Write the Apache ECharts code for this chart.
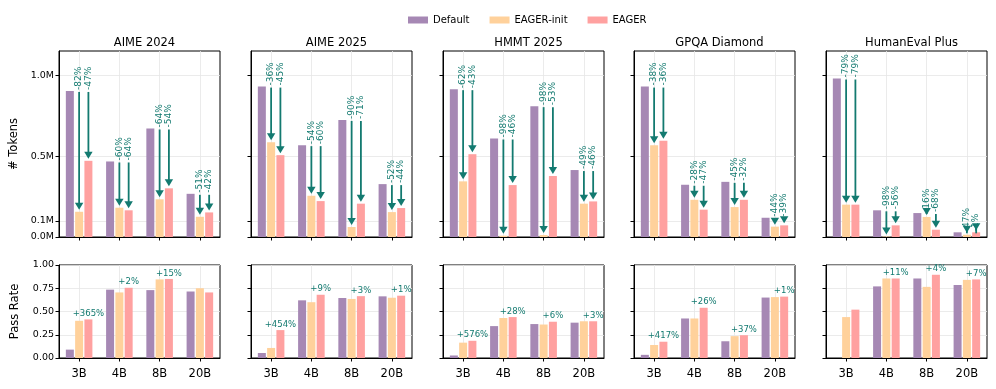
<!DOCTYPE html>
<html>
<head>
<meta charset="utf-8">
<script src="https://cdn.jsdelivr.net/npm/echarts@6/dist/echarts.min.js"></script>
<style>
  html, body { margin: 0; padding: 0; background: #fff; }
  #chart { width: 996px; height: 389px; }
</style>
</head>
<body>
<div id="chart"></div>
<script>
const categories = ['3B', '4B', '8B', '20B']
const benchmarks = ['AIME 2024', 'AIME 2025', 'HMMT 2025', 'GPQA Diamond', 'HumanEval Plus']
const seriesNames = ['Default', 'EAGER-init', 'EAGER']

// tokens, in millions
const tokensDefault = [
  [0.903, 0.467, 0.671, 0.267],
  [0.930, 0.568, 0.724, 0.327],
  [0.914, 0.609, 0.809, 0.414],
  [0.930, 0.323, 0.341, 0.119],
  [0.980, 0.165, 0.148, 0.029],
]
const tokensInit = [
  [0.156, 0.181, 0.233, 0.125],
  [0.586, 0.255, 0.062, 0.154],
  [0.344, 0.008, 0.012, 0.206],
  [0.568, 0.230, 0.185, 0.064],
  [0.200, 0.003, 0.124, 0.014],
]
const tokensEager = [
  [0.471, 0.165, 0.301, 0.152],
  [0.506, 0.222, 0.206, 0.179],
  [0.512, 0.321, 0.377, 0.220],
  [0.595, 0.169, 0.230, 0.072],
  [0.200, 0.072, 0.045, 0.029],
]
const initDeltaLabels = [
  ['-82%', '-60%', '-64%', '-51%'],
  ['-36%', '-54%', '-90%', '-52%'],
  ['-62%', '-98%', '-98%', '-49%'],
  ['-38%', '-28%', '-45%', '-44%'],
  ['-79%', '-98%', '-16%', '-47%'],
]
const eagerDeltaLabels = [
  ['-47%', '-64%', '-54%', '-42%'],
  ['-45%', '-60%', '-71%', '-44%'],
  ['-43%', '-46%', '-53%', '-46%'],
  ['-36%', '-47%', '-32%', '-39%'],
  ['-79%', '-56%', '-68%', '-1%'],
]

const passDefault = [
  [0.09, 0.735, 0.73, 0.715],
  [0.054, 0.62, 0.645, 0.663],
  [0.027, 0.343, 0.365, 0.38],
  [0.034, 0.425, 0.18, 0.65],
  [0, 0.77, 0.855, 0.785],
]
const passInit = [
  [0.40, 0.705, 0.845, 0.75],
  [0.108, 0.60, 0.635, 0.648],
  [0.165, 0.43, 0.36, 0.395],
  [0.14, 0.425, 0.235, 0.655],
  [0.44, 0.855, 0.765, 0.84],
]
const passEager = [
  [0.415, 0.755, 0.85, 0.705],
  [0.30, 0.68, 0.665, 0.67],
  [0.185, 0.44, 0.39, 0.395],
  [0.175, 0.54, 0.245, 0.66],
  [0.52, 0.855, 0.895, 0.845],
]
const passGainLabels = [
  ['+365%', '+2%', '+15%', ''],
  ['+454%', '+9%', '+3%', '+1%'],
  ['+576%', '+28%', '+6%', '+3%'],
  ['+417%', '+26%', '+37%', '+1%'],
  ['', '+11%', '+4%', '+7%'],
]

const tokenTicks = [0, 0.1, 0.5, 1.0]

const COLORS = ['#a688b4', '#ffd19b', '#ffa1a0']
const TEAL = '#137a70'
const FONT = 'DejaVu Sans'
const LEFTS = [59, 251, 443, 634, 826]
const W = 161
const BAR_W = 8
const BAR_STEP = BAR_W * 1.16

const chart = echarts.init(document.getElementById('chart'))

const grids = []
const xAxes = []
const yAxes = []
const series = []
const titles = []

function baseX(gi, showLabels) {
  return {
    type: 'category',
    gridIndex: gi,
    data: categories,
    axisLine: { show: true, lineStyle: { color: '#000', width: 1 } },
    axisTick: { show: true, alignWithLabel: true, length: 3.5, lineStyle: { color: '#000' } },
    axisLabel: { show: showLabels, color: '#000', fontSize: 11.5, fontFamily: FONT, margin: 10 },
    splitLine: { show: true, alignWithLabel: true, lineStyle: { color: '#e6e6e6', width: 0.8 } },
  }
}

benchmarks.forEach((name, p) => {
  const gt = p * 2
  const gb = p * 2 + 1
  grids.push({ left: LEFTS[p], top: 51, width: W, height: 186, show: true, borderColor: '#000', borderWidth: 1 })
  grids.push({ left: LEFTS[p], top: 265, width: W, height: 93, show: true, borderColor: '#000', borderWidth: 1 })
  titles.push({
    text: name, left: LEFTS[p] + W / 2, top: 32, textAlign: 'center',
    textStyle: { fontSize: 11.5, fontWeight: 'normal', color: '#000', fontFamily: FONT },
  })
  xAxes.push(baseX(gt, false))
  xAxes.push(baseX(gb, true))
  yAxes.push({
    type: 'value', gridIndex: gt, min: 0, max: 1.15,
    name: p === 0 ? '# Tokens' : '', nameLocation: 'middle', nameGap: 39,
    nameTextStyle: { fontSize: 11.5, color: '#000', fontFamily: FONT },
    axisLine: { show: true, lineStyle: { color: '#000' } },
    axisTick: { show: true, length: 3.5, customValues: tokenTicks, lineStyle: { color: '#000' } },
    axisLabel: {
      show: p === 0, customValues: tokenTicks, color: '#000', fontSize: 9.5, fontFamily: FONT, margin: 5,
      formatter: v => v.toFixed(1) + 'M',
    },
    splitLine: { show: true, customValues: tokenTicks, lineStyle: { color: '#e6e6e6', width: 0.8 } },
  })
  yAxes.push({
    type: 'value', gridIndex: gb, min: 0, max: 1, interval: 0.25,
    name: p === 0 ? 'Pass Rate' : '', nameLocation: 'middle', nameGap: 38,
    nameTextStyle: { fontSize: 11.5, color: '#000', fontFamily: FONT },
    axisLine: { show: true, lineStyle: { color: '#000' } },
    axisTick: { show: true, length: 3.5, lineStyle: { color: '#000' } },
    axisLabel: {
      show: p === 0, color: '#000', fontSize: 9.5, fontFamily: FONT, margin: 5,
      formatter: v => v.toFixed(2),
    },
    splitLine: { show: true, lineStyle: { color: '#e6e6e6', width: 0.8 } },
  })

  const tokSets = [tokensDefault[p], tokensInit[p], tokensEager[p]]
  const passSets = [passDefault[p], passInit[p], passEager[p]]
  seriesNames.forEach((sn, k) => {
    series.push({
      name: sn, type: 'bar', xAxisIndex: gt, yAxisIndex: gt,
      data: tokSets[k], barWidth: BAR_W, barGap: '16%',
      itemStyle: { color: COLORS[k] }, silent: true,
    })
    series.push({
      name: sn, type: 'bar', xAxisIndex: gb, yAxisIndex: gb,
      data: passSets[k], barWidth: BAR_W, barGap: '16%',
      itemStyle: { color: COLORS[k] }, silent: true,
      label: k === 2 ? {
        show: true, position: 'top', distance: 1, color: TEAL, fontSize: 8.5, fontFamily: FONT,
        formatter: prm => passGainLabels[p][prm.dataIndex],
      } : { show: false },
    })
  })

  // arrows: Default -> EAGER-init (slot 1), Default -> EAGER (slot 2)
  const arrowData = []
  const arrowLabels = []
  categories.forEach((c, i) => {
    arrowData.push([i, tokensDefault[p][i], tokensInit[p][i], 1])
    arrowLabels.push(initDeltaLabels[p][i])
    arrowData.push([i, tokensDefault[p][i], tokensEager[p][i], 2])
    arrowLabels.push(eagerDeltaLabels[p][i])
  })
  series.push({
    type: 'custom', xAxisIndex: gt, yAxisIndex: gt, silent: true, z: 5,
    data: arrowData,
    renderItem(params, api) {
      const cat = api.value(0)
      const p0 = api.coord([cat, api.value(1)])
      const p1 = api.coord([cat, api.value(2)])
      const x = p0[0] + (api.value(3) - 1) * BAR_STEP
      const y0 = p0[1] + 1
      const tip = p1[1] - 2
      const hh = 7
      const hw = 4.2
      return {
        type: 'group',
        children: [
          { type: 'line', shape: { x1: x, y1: y0, x2: x, y2: tip - hh + 1 }, style: { stroke: TEAL, lineWidth: 1.8 } },
          { type: 'polygon', shape: { points: [[x - hw, tip - hh], [x + hw, tip - hh], [x, tip]] }, style: { fill: TEAL } },
          {
            type: 'text', x: x, y: y0 - 2, rotation: Math.PI / 2,
            style: {
              text: arrowLabels[params.dataIndex], fill: TEAL, fontSize: 9, fontFamily: FONT,
              align: 'left', verticalAlign: 'middle',
            },
          },
        ],
      }
    },
  })
})

const options = {
  animation: false,
  backgroundColor: '#fff',
  title: titles,
  legend: {
    data: seriesNames, top: 10, left: 403, icon: 'rect',
    itemWidth: 20, itemHeight: 7, itemGap: 20,
    textStyle: { fontSize: 10, color: '#000', fontFamily: FONT },
  },
  grid: grids,
  xAxis: xAxes,
  yAxis: yAxes,
  series,
}
chart.setOption(options)
</script>
</body>
</html>
